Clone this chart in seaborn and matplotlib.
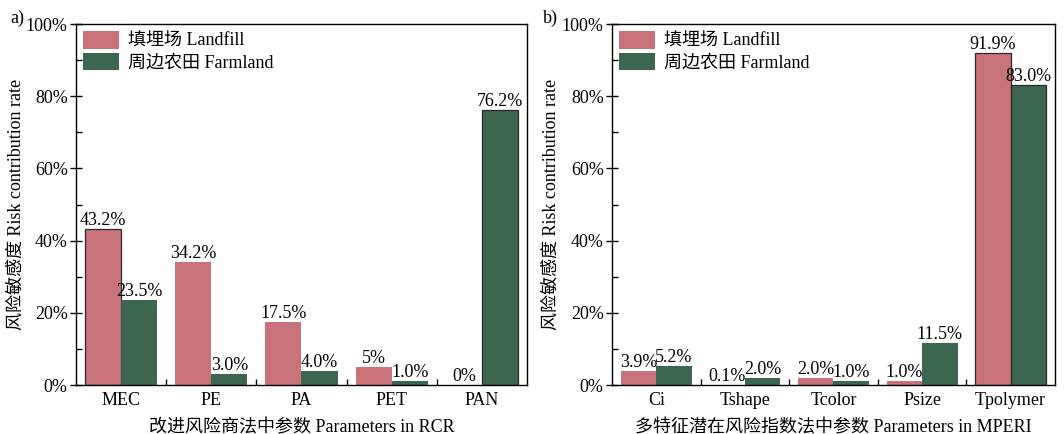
import numpy as np
import pandas as pd
import seaborn as sns
import matplotlib.pyplot as plt
from matplotlib.ticker import MultipleLocator, FixedLocator, PercentFormatter

# Panel a: improved risk quotient (RCR) parameters
rcr_params = ["MEC", "PE", "PA", "PET", "PAN"]
rcr_landfill = [43.2, 34.2, 17.5, 5.0, 0.0]
rcr_farmland = [23.5, 3.0, 4.0, 1.0, 76.2]
rcr_landfill_labels = ["43.2%", "34.2%", "17.5%", "5%", "0%"]
rcr_farmland_labels = ["23.5%", "3.0%", "4.0%", "1.0%", "76.2%"]

# Panel b: multi-feature potential ecological risk index (MPERI) parameters
mperi_params = ["Ci", "Tshape", "Tcolor", "Psize", "Tpolymer"]
mperi_landfill = [3.9, 0.1, 2.0, 1.0, 91.9]
mperi_farmland = [5.2, 2.0, 1.0, 11.5, 83.0]
mperi_landfill_labels = ["3.9%", "0.1%", "2.0%", "1.0%", "91.9%"]
mperi_farmland_labels = ["5.2%", "2.0%", "1.0%", "11.5%", "83.0%"]

groups = ["填埋场 Landfill", "周边农田 Farmland"]
colors = ["#C8737A", "#3D6650"]

FS = 13

sns.set_theme(style="ticks")
plt.rcParams["font.family"] = ["Liberation Serif", "Noto Sans CJK SC", "DejaVu Sans"]
plt.rcParams["font.size"] = FS
plt.rcParams["axes.linewidth"] = 1.0
plt.rcParams["text.color"] = "black"
plt.rcParams["axes.labelcolor"] = "black"
plt.rcParams["xtick.color"] = "black"
plt.rcParams["ytick.color"] = "black"
plt.rcParams["axes.edgecolor"] = "black"

fig = plt.figure(figsize=(10.64, 4.34), dpi=100)
ax_a = fig.add_axes([0.0714, 0.1129, 0.4239, 0.8318])
ax_b = fig.add_axes([0.5752, 0.1129, 0.4163, 0.8318])


def draw_panel(ax, params, landfill, farmland, lf_labels, fm_labels, xlabel, tag, tag_x, ylab_x):
    df = pd.DataFrame({
        "param": params * 2,
        "value": landfill + farmland,
        "group": [groups[0]] * len(params) + [groups[1]] * len(params),
    })
    sns.barplot(data=df, x="param", y="value", hue="group", order=params,
                hue_order=groups, palette=colors, saturation=1, width=0.8,
                edgecolor="none", linewidth=0, ax=ax)
    # outline the largest bar of each series
    for cont, vals in zip(ax.containers, (landfill, farmland)):
        imax = int(np.argmax(vals))
        cont.patches[imax].set_edgecolor("#2a2a2a")
        cont.patches[imax].set_linewidth(0.9)
    for cont, labs in zip(ax.containers, (lf_labels, fm_labels)):
        ax.bar_label(cont, labels=labs, padding=0, fontsize=FS, color="black")

    ax.set_xlim(-0.5, len(params) - 0.5)
    ax.set_ylim(0, 100)
    ax.yaxis.set_major_locator(MultipleLocator(20))
    ax.yaxis.set_minor_locator(MultipleLocator(10))
    ax.yaxis.set_major_formatter(PercentFormatter(decimals=0))
    ax.xaxis.set_minor_locator(FixedLocator(np.arange(0.5, len(params) - 1, 1.0)))
    ax.tick_params(axis="y", which="major", direction="inout", length=8, width=1,
                   labelsize=FS, pad=2)
    ax.tick_params(axis="y", which="minor", direction="in", length=4, width=1)
    ax.tick_params(axis="x", which="major", direction="in", length=0, labelsize=FS, pad=5)
    ax.tick_params(axis="x", which="minor", direction="in", length=4, width=1)
    for sp in ax.spines.values():
        sp.set_visible(True)
        sp.set_color("black")
    ax.set_xlabel(xlabel, fontsize=FS, labelpad=7)
    ax.set_ylabel("风险敏感度 Risk contribution rate", fontsize=FS)
    ax.yaxis.set_label_coords(ylab_x, 0.5)
    ax.legend(loc="upper left", frameon=False, fontsize=FS, handlelength=2.0,
              handleheight=1.1, handletextpad=0.5, labelspacing=0.15,
              borderaxespad=0.2, borderpad=0.2)
    ax.text(tag_x, 1.017, tag, transform=ax.transAxes, fontsize=FS, va="center", ha="left")


draw_panel(ax_a, rcr_params, rcr_landfill, rcr_farmland, rcr_landfill_labels,
           rcr_farmland_labels, "改进风险商法中参数 Parameters in RCR", "a)", -0.146, -0.113)
draw_panel(ax_b, mperi_params, mperi_landfill, mperi_farmland, mperi_landfill_labels,
           mperi_farmland_labels, "多特征潜在风险指数法中参数 Parameters in MPERI", "b)", -0.156, -0.117)

fig.savefig("out.png", dpi=100)
